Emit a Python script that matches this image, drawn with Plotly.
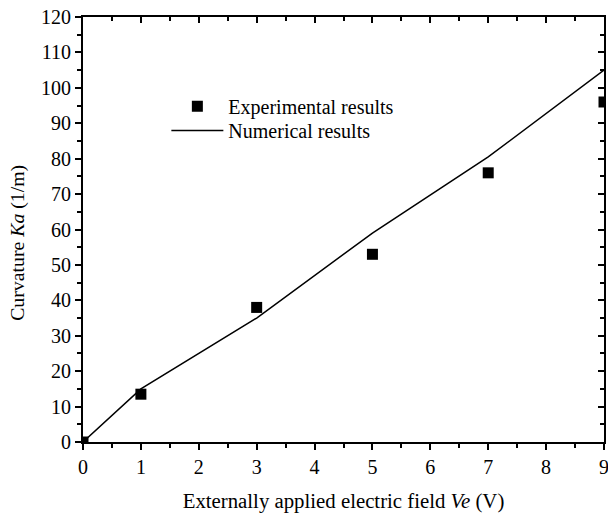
import plotly.graph_objects as go

exp_x = [0, 1, 3, 5, 7, 9]
exp_y = [0, 13.5, 38, 53, 76, 96]
num_x = [0, 1, 3, 5, 7, 9]
num_y = [0, 15, 35, 59, 80.5, 105]

FONT = "Liberation Serif, Times New Roman, serif"

fig = go.Figure()
fig.add_trace(go.Scatter(x=exp_x, y=exp_y, mode="markers", name="Experimental results",
                         marker=dict(symbol="square", size=11, color="black"), legend="legend"))
fig.add_trace(go.Scatter(x=num_x, y=num_y, mode="lines", name="Numerical results",
                         line=dict(color="black", width=1.5), legend="legend2"))

axcommon = dict(showgrid=False, zeroline=False, linecolor="black", linewidth=2, showline=True,
                automargin=False,
                tickcolor="black", tickwidth=1.5, tickfont=dict(family=FONT, size=20, color="black"))
legcommon = dict(xanchor="left", yanchor="middle", bgcolor="rgba(0,0,0,0)", itemwidth=52,
                 font=dict(family=FONT, size=20, color="black"))
fig.update_layout(
    width=608, height=513,
    margin=dict(l=83, r=4, t=17, b=71),
    plot_bgcolor="white", paper_bgcolor="white",
    font=dict(family=FONT, color="black"),
    xaxis=dict(range=[0, 9], dtick=1, ticks="outside", ticklen=6, ticklabeloverflow="allow",
               minor=dict(ticks="outside", ticklen=4, dtick=0.5, tickcolor="black", tickwidth=1.5),
               title=dict(text="Externally applied electric field <i>Ve</i> (V)", font=dict(family=FONT, size=20.8), standoff=17),
               **axcommon),
    yaxis=dict(range=[0, 120], dtick=10, ticks="outside", ticklen=6,
               minor=dict(ticks="outside", ticklen=4, dtick=5, tickcolor="black", tickwidth=1.5),
               **axcommon),
    xaxis2=dict(range=[0, 9], dtick=1, overlaying="x", side="top", ticks="inside", ticklen=6,
                minor=dict(ticks="inside", ticklen=4, dtick=0.5, tickcolor="black", tickwidth=1.5),
                showticklabels=False, showgrid=False, zeroline=False, linecolor="black", linewidth=2,
                tickcolor="black", tickwidth=1.5, showline=True, automargin=False),
    yaxis2=dict(range=[0, 120], dtick=10, overlaying="y", side="right", ticks="inside", ticklen=6,
                minor=dict(ticks="inside", ticklen=4, dtick=5, tickcolor="black", tickwidth=1.5),
                showticklabels=False, showgrid=False, zeroline=False, linecolor="black", linewidth=2,
                tickcolor="black", tickwidth=1.5, showline=True, automargin=False),
    legend=dict(x=0.16, y=0.79, **legcommon),
    legend2=dict(x=0.16, y=0.733, **legcommon),
    showlegend=True,
    annotations=[dict(text="Curvature <i>Ka</i> (1/m)", textangle=-90, showarrow=False,
                      xref="paper", yref="paper", x=-0.1257, y=0.4675,
                      xanchor="center", yanchor="middle",
                      font=dict(family=FONT, size=19.8, color="black"))],
)
fig.add_trace(go.Scatter(x=[None], y=[None], xaxis="x2", yaxis="y2", showlegend=False, hoverinfo="skip"))
fig.write_html("out.html")
